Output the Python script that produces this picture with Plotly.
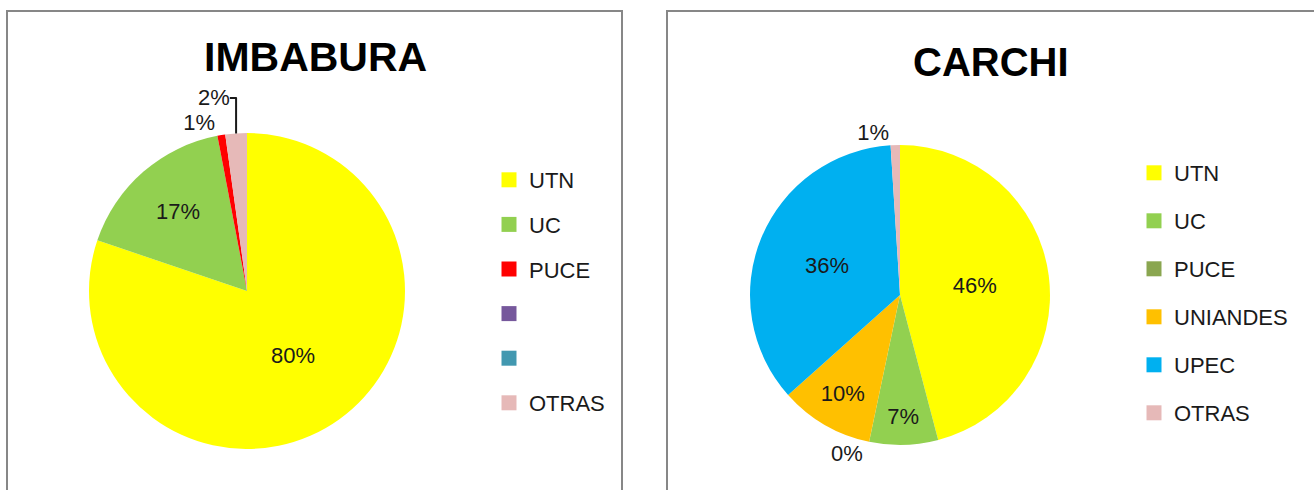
import plotly.graph_objects as go

# ---- data ----
imb_categories = ["UTN", "UC", "PUCE", "", "", "OTRAS"]
imb_values = [80.2, 16.8, 0.8, 0.0, 0.0, 2.2]
imb_colors = ["#FFFF00", "#92D050", "#FF0000", "#76589C", "#4298B0", "#E6B9B8"]

car_categories = ["UTN", "UC", "PUCE", "UNIANDES", "UPEC", "OTRAS"]
car_values = [45.9, 7.4, 0.0, 10.1, 35.6, 1.0]
car_colors = ["#FFFF00", "#92D050", "#8AA650", "#FFC000", "#00B0F0", "#E6B9B8"]

titles = ["IMBABURA", "CARCHI"]

FONT = "Liberation Sans, Arial, sans-serif"
W, H = 1314, 490


def pct_text(values, cats):
    tot = sum(values)
    out = []
    for v, c in zip(values, cats):
        if c == "" and v == 0:
            out.append("")
        else:
            out.append(f"{round(v / tot * 100):d}%")
    return out


def positions(values):
    tot = sum(values)
    return ["inside" if v / tot >= 0.05 else "outside" for v in values]


def uniq(cats):
    return [c if c else " " * (i + 1) for i, c in enumerate(cats)]


fig = go.Figure()

pies = [
    (imb_categories, imb_values, imb_colors, [89 / W, 405 / W], [41 / H, 357 / H]),
    (car_categories, car_values, car_colors, [750 / W, 1050 / W], [45 / H, 345 / H]),
]
for cats, vals, cols, dx, dy in pies:
    fig.add_trace(go.Pie(
        labels=uniq(cats), values=vals, sort=False, direction="clockwise", rotation=0,
        marker=dict(colors=cols, line=dict(width=0)),
        text=pct_text(vals, cats), textinfo="text", textposition=positions(vals),
        insidetextorientation="horizontal",
        textfont=dict(family=FONT, size=22, color="#1a1a1a"),
        domain=dict(x=dx, y=dy), showlegend=False, hoverinfo="label+percent",
    ))

# legend entries (one group each so spacing can be controlled)
for k, (cats, cols) in enumerate([(imb_categories, imb_colors), (car_categories, car_colors)]):
    leg = "legend" if k == 0 else "legend2"
    for i, (c, col) in enumerate(zip(cats, cols)):
        fig.add_trace(go.Scatter(
            x=[None], y=[None], mode="markers", name=c,
            marker=dict(symbol="square", size=15, color=col),
            legend=leg, legendgroup=f"{leg}_{i}", showlegend=True, hoverinfo="skip",
        ))

shapes = [
    dict(type="rect", xref="paper", yref="paper", x0=7 / W, x1=622 / W, y0=-0.05, y1=1 - 11 / H,
         line=dict(color="#878787", width=2), fillcolor="rgba(0,0,0,0)"),
    dict(type="rect", xref="paper", yref="paper", x0=667 / W, x1=1.05, y0=-0.05, y1=1 - 11 / H,
         line=dict(color="#878787", width=2), fillcolor="rgba(0,0,0,0)"),
]

annotations = [
    dict(text=f"<b>{titles[0]}</b>", x=315 / W, y=1 - 57 / H, xref="paper", yref="paper", showarrow=False,
         font=dict(family=FONT, size=41, color="#000000"), xanchor="center", yanchor="middle"),
    dict(text=f"<b>{titles[1]}</b>", x=991 / W, y=1 - 62 / H, xref="paper", yref="paper", showarrow=False,
         font=dict(family=FONT, size=40, color="#000000"), xanchor="center", yanchor="middle"),
]

leg_common = dict(font=dict(family=FONT, size=22, color="#1a1a1a"), traceorder="grouped",
                  bgcolor="rgba(0,0,0,0)", xanchor="left", yanchor="top", itemclick=False)

fig.update_layout(
    width=W, height=H, margin=dict(l=0, r=0, t=0, b=0),
    paper_bgcolor="white", plot_bgcolor="white",
    xaxis=dict(visible=False), yaxis=dict(visible=False),
    shapes=shapes, annotations=annotations,
    legend=dict(x=489 / W, y=1 - 159 / H, tracegroupgap=13, **leg_common),
    legend2=dict(x=1134 / W, y=1 - 152 / H, tracegroupgap=16.4, **leg_common),
)

fig.write_html("out.html", config={"displayModeBar": False},
               post_script="document.body.style.margin='0';")
